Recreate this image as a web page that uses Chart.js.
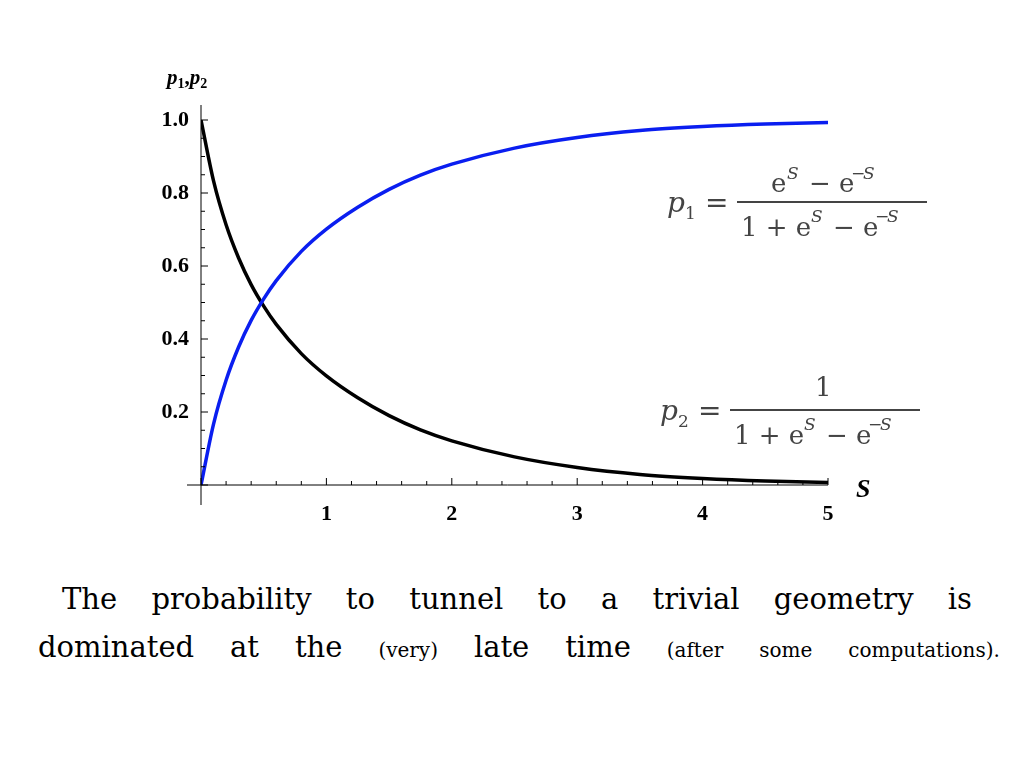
<!DOCTYPE html>
<html><head><meta charset="utf-8">
<script src="https://cdn.jsdelivr.net/npm/chart.js@4"></script>
<style>
body{margin:0;width:1024px;height:768px;background:#fff;position:relative;overflow:hidden}
#wrap{position:absolute;left:0;top:0;width:1024px;height:560px}
.cap{position:absolute;font-family:"DejaVu Serif","Liberation Serif",serif;font-size:29px;color:#000;white-space:nowrap}
.sm{font-size:20px}
</style></head><body>
<div id="wrap"><canvas id="c" width="1024" height="560"></canvas></div>
<div class="cap" style="left:62px;top:582px;width:910px;display:flex;justify-content:space-between"><span>The</span><span>probability</span><span>to</span><span>tunnel</span><span>to</span><span>a</span><span>trivial</span><span>geometry</span><span>is</span></div>
<div class="cap" style="left:38px;top:630px;width:962px;display:flex;justify-content:space-between;align-items:baseline"><span>dominated</span><span>at</span><span>the</span><span class="sm">(very)</span><span>late</span><span>time</span><span class="sm">(after</span><span class="sm">some</span><span class="sm">computations).</span></div>
<script>
const sValues=[0,0.1,0.2,0.3,0.4,0.5,0.6,0.8,1.0,1.25,1.5,1.75,2,2.5,3,3.5,4,4.5,5];
const p1Values=[0,0.167,0.287,0.378,0.451,0.510,0.560,0.640,0.701,0.761,0.810,0.849,0.879,0.923,0.952,0.971,0.982,0.989,0.993];
const p2Values=[1,0.833,0.713,0.622,0.549,0.490,0.440,0.360,0.299,0.239,0.190,0.151,0.121,0.077,0.048,0.029,0.018,0.011,0.007];
const xTicks=[1,2,3,4,5];
const yTicks=[0.2,0.4,0.6,0.8,1.0];
const tickFont={family:"Liberation Serif",size:22,weight:"bold"};
const deco={id:'deco',afterDraw(ch){
 const c=ch.ctx,a=ch.chartArea;c.save();c.fillStyle='#000';c.strokeStyle='#000';
 c.lineWidth=1;
 const xs=ch.scales.x,ys=ch.scales.y;
 for(let v=0;v<=5.001;v+=0.2){const px=xs.getPixelForValue(v);c.beginPath();c.moveTo(px,a.bottom);c.lineTo(px,a.bottom-(Math.abs(v-Math.round(v))<1e-6?7:4));c.stroke();}
 for(let v=0;v<=1.001;v+=0.05){const py=ys.getPixelForValue(v);c.beginPath();c.moveTo(a.left,py);c.lineTo(a.left+(Math.abs(v*5-Math.round(v*5))<1e-6?7:4),py);c.stroke();}
 c.beginPath();c.moveTo(a.left-14,a.bottom);c.lineTo(a.right,a.bottom);c.moveTo(a.left,a.top-15);c.lineTo(a.left,a.bottom+20);c.stroke();
 c.textBaseline='alphabetic';
 let x=167;const big='bold italic 21px "Liberation Serif"',sm='bold 14px "Liberation Serif"';
 const put=(t,f,dy)=>{c.font=f;c.fillText(t,x,84+dy);x+=c.measureText(t).width;};
 put('p',big,0);put('1',sm,4);c.font='bold 21px "Liberation Serif"';put(',','bold 21px "Liberation Serif"',0);put('p',big,0);put('2',sm,4);
 c.font='bold italic 26px "Liberation Serif"';c.fillText('S',856,497);
 c.fillStyle='#444';
 function formula(x,y,sub,num,lineW){
  c.font='italic 28px "DejaVu Serif"';c.fillText('p',x,y);c.font='17px "DejaVu Serif"';c.fillText(sub,x+18,y+7);
  c.font='28px "DejaVu Serif"';c.fillText('=',x+38,y);
  const fx=x+70;c.fillRect(fx,y-11,lineW,2);
  c.font='26px "DejaVu Serif"';
  if(num){c.fillText('e',fx+34,y-20);c.font='italic 17px "DejaVu Serif"';c.fillText('S',fx+50,y-33);c.font='26px "DejaVu Serif"';c.fillText('− e',fx+72,y-20);c.font='17px "DejaVu Serif"';c.fillText('−',fx+114,y-33);c.font='italic 17px "DejaVu Serif"';c.fillText('S',fx+126,y-33);}
  else{c.fillText('1',fx+85,y-24);}
  c.font='26px "DejaVu Serif"';c.fillText('1 + e',fx+4,y+24);c.font='italic 17px "DejaVu Serif"';c.fillText('S',fx+74,y+10);
  c.font='26px "DejaVu Serif"';c.fillText('− e',fx+96,y+24);c.font='17px "DejaVu Serif"';c.fillText('−',fx+138,y+10);c.font='italic 17px "DejaVu Serif"';c.fillText('S',fx+150,y+10);
 }
 formula(667,212,'1',true,190);formula(660,420,'2',false,190);
 c.restore();}};
new Chart(document.getElementById('c'),{type:'line',
 data:{datasets:[
  {data:sValues.map((s,i)=>({x:s,y:p1Values[i]})),borderColor:'#0a1ef0',borderWidth:3.5,pointRadius:0,cubicInterpolationMode:'monotone'},
  {data:sValues.map((s,i)=>({x:s,y:p2Values[i]})),borderColor:'#000',borderWidth:3.5,pointRadius:0,cubicInterpolationMode:'monotone'}]},
 options:{animation:false,responsive:false,events:[],
  layout:{padding:{left:140,right:196,top:120,bottom:35}},
  plugins:{legend:{display:false},tooltip:{enabled:false}},
  scales:{
   x:{type:'linear',min:0,max:5,border:{display:false},grid:{display:false},afterFit:s=>{s.height=40},
      afterBuildTicks:s=>{s.ticks=xTicks.map(v=>({value:v}))},ticks:{color:'#000',font:tickFont,padding:8}},
   y:{min:0,max:1,border:{display:false},grid:{display:false},afterFit:s=>{s.width=61},
      afterBuildTicks:s=>{s.ticks=yTicks.map(v=>({value:v}))},ticks:{color:'#000',font:tickFont,padding:4,callback:v=>v.toFixed(1)}}}},
 plugins:[deco]});
</script></body></html>
